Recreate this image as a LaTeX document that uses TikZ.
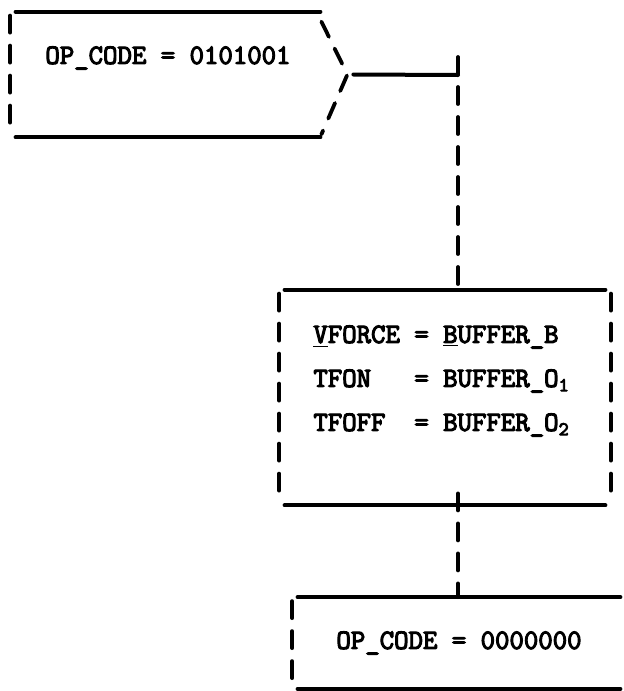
\documentclass[tikz,border=0pt]{standalone}
\usepackage{fontspec}
\usetikzlibrary{positioning,calc}
\newfontfamily\typer{Latin Modern Mono}[FakeBold=4]
\tikzset{
  hline/.style={line width=2pt, line cap=round},
  vline/.style={line width=1.9pt, line cap=round, dash pattern=on 8.5pt off 6.5pt},
  frame/.style={draw=none, inner sep=0pt},
  txt/.style={font=\typer\fontsize{14}{22}\selectfont, inner sep=0pt, align=left},
}
\newcommand{\sidebars}[1]{%
  \draw[vline] ([shift={(-5.5,4)}]#1.north west) -- ([shift={(-5.5,-2)}]#1.south west);}

\begin{document}
\begin{tikzpicture}[x=0.5pt, y=-0.5pt]
    \useasboundingbox (0,0) rectangle (623,691);
    % the three frames
    \node[frame, minimum width=152pt, minimum height=62.5pt] (set) at (168,74.5) {};
    \node[frame, minimum width=160pt, minimum height=107.5pt] (force) at (445,397.5) {};
    \node[frame, txt, minimum width=161pt, minimum height=45.5pt] (clear) at (459,643) {OP\_CODE = 0000000};
    \node[txt, anchor=west] (setlbl) at (45,58) {OP\_CODE = 0101001};
    \node[txt, anchor=west] (forcelbl) at (313,381) {\underline{V}FORCE = \underline{B}UFFER\_B\\
      TFON\ \ \ = BUFFER\_O\textsubscript{1}\\
      TFOFF\ \ = BUFFER\_O\textsubscript{2}};
    \foreach \b in {set,force,clear} {
      \draw[hline] (\b.north west) -- (\b.north east);
      \draw[hline] (\b.south west) -- (\b.south east);
      \sidebars{\b}
    }
    \draw[vline] ([shift={(5.5,4)}]force.north east) -- ([shift={(5.5,-2)}]force.south east);
    % chevron and the flow line
    \coordinate (tip) at ($(set.east)+(27,0)$);
    \coordinate (bend) at (458,75);
    \draw[vline] ([shift={(1,10)}]set.north east) -- (tip) -- ([shift={(1,-3)}]set.south east);
    \draw[hline] ([xshift=3]tip) -- (bend);
    \draw[vline] ([yshift=9]bend) -- (bend |- force.north);
    \draw[vline] ([yshift=6]bend |- force.south) -- (bend |- clear.north);
\end{tikzpicture}
\end{document}
